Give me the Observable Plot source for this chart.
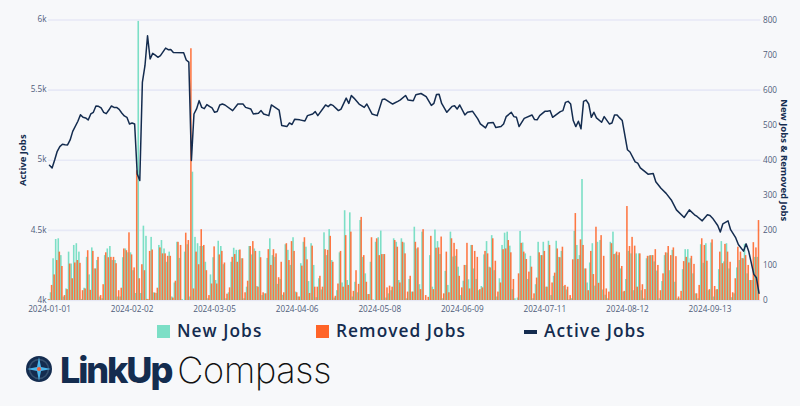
<!DOCTYPE html>
<html><head><meta charset="utf-8">
<script src="https://cdn.jsdelivr.net/npm/d3@7"></script>
<script src="https://cdn.jsdelivr.net/npm/@observablehq/plot@0.6"></script>
<style>
html,body{margin:0;padding:0;background:#fff;overflow:hidden}
#page{position:relative;width:800px;height:406px;background:#f7f8fa;font-family:"Open Sans",sans-serif}
#chart{position:absolute;left:0;top:0}
.lg{position:absolute;top:319px;font-size:17.3px;font-weight:600;color:#142c4f;letter-spacing:1.05px;line-height:24px;white-space:nowrap}
.sw{position:absolute}
#logo{position:absolute;left:60px;top:348px;white-space:nowrap;line-height:42px}
#logo .a{font:800 36px Inter,sans-serif;color:#142c4f;letter-spacing:-2.1px}
#logo .b{font:200 36px Inter,sans-serif;color:#111;margin-left:6px;letter-spacing:-.3px}
#icon{position:absolute;left:25px;top:355px}
</style></head><body>
<div id="page">
<div id="chart"></div>
<div class="sw" style="left:157px;top:325px;width:13px;height:13px;background:#7cdfc6"></div>
<div class="lg" style="left:177px">New Jobs</div>
<div class="sw" style="left:316px;top:325px;width:13px;height:13px;background:#ff6428"></div>
<div class="lg" style="left:336px">Removed Jobs</div>
<div class="sw" style="left:524px;top:330px;width:13px;height:4px;background:#142c4f"></div>
<div class="lg" style="left:544px">Active Jobs</div>
<svg id="icon" width="28" height="28" viewBox="0 0 28 28">
<circle cx="14" cy="14" r="13" fill="#142c4f"/><circle cx="14" cy="14" r="9.5" fill="none" stroke="#35506f" stroke-width="1.5"/>
<path d="M14 2 L16 12 L26 14 L16 16 L14 26 L12 16 L2 14 L12 12Z" fill="#4cb5ea"/><circle cx="14" cy="14" r="2" fill="#f0603a"/>
</svg>
<div id="logo"><span class="a">LinkUp</span><span class="b">Compass</span></div>
</div>
<script>
const newJobs = [
2,22,119,174,176,128,10,33,138,104,
157,162,138,3,35,123,73,150,90,114,
10,5,128,147,154,114,114,10,10,122,
147,136,136,85,20,796,20,212,183,3,
180,22,20,157,171,147,109,138,10,50,
166,120,3,138,159,10,366,180,162,154,
154,109,5,73,122,57,169,154,102,5,
22,109,149,143,143,119,5,38,154,130,
147,40,140,14,19,120,176,128,123,46,
60,15,159,143,100,179,24,10,105,166,
152,54,162,100,8,62,30,193,128,202,
114,7,28,136,50,256,57,250,10,52,
22,228,123,76,17,109,2,166,179,198,
131,7,19,28,176,166,57,176,164,5,
60,24,209,147,45,195,0,0,128,38,
201,168,131,5,83,43,195,124,126,95,
14,55,100,59,157,90,60,28,40,130,
168,95,185,85,10,62,157,192,195,155,
31,5,7,197,164,133,60,126,5,45,
166,128,166,38,169,14,69,169,123,140,
40,30,2,5,197,157,128,345,90,50,
107,162,41,166,171,30,15,5,166,195,
133,128,90,24,60,140,133,28,133,133,
28,5,119,126,128,110,84,5,54,128,
135,85,143,52,5,5,88,145,145,119,
76,19,5,159,106,162,28,164,10,30,
88,168,110,162,90,8,19,93,114,120,
160,76,57,57,123,123];
const removedJobs = [
3,43,73,114,138,97,14,31,104,62,
107,114,106,28,33,142,29,140,90,123,
14,45,136,122,123,123,105,28,35,147,
142,193,130,93,370,62,102,85,3,140,
144,21,35,150,133,133,126,126,7,55,
166,157,0,192,171,718,33,138,102,202,
157,85,14,47,153,47,130,140,107,18,
36,123,131,109,144,119,22,55,154,168,
140,38,122,22,19,145,100,145,133,65,
109,22,162,114,168,140,22,10,98,179,
116,20,155,38,38,69,38,145,143,183,
109,12,47,140,38,185,43,195,26,85,
46,237,128,52,17,179,0,176,128,131,
131,36,41,38,171,152,50,166,133,24,
69,24,166,150,31,202,14,9,183,31,
149,150,181,19,138,22,176,163,145,69,
36,100,163,33,157,140,123,31,36,140,
133,93,176,112,24,50,145,147,171,136,
60,0,76,163,138,117,81,95,19,64,
136,128,140,38,157,50,78,147,122,152,
43,38,14,116,248,117,173,157,90,28,
140,74,209,49,185,126,33,24,162,131,
138,136,97,26,268,154,180,155,38,133,
45,31,126,128,128,145,100,28,76,136,
154,128,150,125,10,26,111,123,107,126,
103,19,43,176,157,112,31,173,40,31,
138,105,160,138,109,22,62,152,138,119,
128,100,57,165,150,228];
const activeDay = [
0,1,2,3,4,5,6,7,8,9,
11,12,13,14,15,16,17,18,19,20,
21,22,23,24,25,26,27,28,29,30,
31,32,33,34,35,36,37,38,39,40,
41,42,43,45,46,47,48,52,53,54,
55,56,57,58,59,60,61,62,63,64,
65,66,67,68,71,73,75,76,78,79,
81,82,83,85,86,89,90,92,93,94,
95,97,99,100,102,103,104,107,108,109,
110,112,113,115,116,117,118,120,122,123,
125,127,129,130,133,135,136,138,139,141,
142,144,146,148,149,150,151,152,154,156,
157,158,159,161,162,164,166,167,169,170,
172,173,175,176,177,179,180,181,182,184,
187,188,189,190,192,193,194,195,198,199,
200,201,202,203,204,205,206,207,208,209,
210,211,212,214,215,217,218,219,220,221,
222,224,225,227,228,229,232,234,235,237,
239,241,243,246,248,250,251,253,255,256,
257,259,260,261,263,264,266,267,269,270,
271,273,274,275];
const activeValue = [
4964,4945,5002,5064,5097,5114,5111,5109,5145,5206,
5278,5325,5306,5302,5287,5330,5342,5387,5385,5373,
5342,5332,5358,5387,5377,5377,5363,5337,5316,5306,
5259,5266,5259,4902,4855,5556,5674,5888,5722,5762,
5750,5734,5746,5800,5788,5790,5769,5767,5715,5700,
4998,5330,5366,5425,5377,5368,5397,5385,5373,5342,
5347,5394,5401,5394,5354,5401,5401,5377,5366,5330,
5335,5354,5330,5318,5394,5358,5248,5240,5266,5255,
5292,5288,5280,5318,5330,5347,5318,5394,5382,5398,
5389,5354,5365,5443,5405,5462,5443,5401,5377,5401,
5330,5318,5434,5436,5401,5420,5431,5462,5429,5424,
5467,5476,5453,5391,5406,5469,5471,5405,5342,5384,
5389,5365,5394,5323,5342,5349,5295,5259,5231,5266,
5269,5233,5240,5259,5311,5342,5311,5306,5240,5299,
5323,5290,5288,5318,5349,5349,5354,5306,5347,5354,
5413,5420,5401,5283,5240,5278,5224,5420,5429,5401,
5306,5342,5302,5271,5311,5259,5266,5323,5323,5302,
5283,5075,5059,4988,4979,4946,4901,4906,4847,4800,
4764,4717,4646,4592,4646,4611,4599,4568,4611,4606,
4587,4535,4488,4547,4568,4505,4446,4399,4352,4404,
4352,4186,4162,4052];
const tickDays = [0,32,64,96,128,160,192,224,256];
const leftTicks = [4000,4500,5000,5500,6000];
const leftLabels = ["4k","4.5k","5k","5.5k","6k"];
const rightTicks = [0,100,200,300,400,500,600,700,800];

const DAY = 864e5, T0 = Date.UTC(2024,0,1);
const day = i => new Date(T0 + i*DAY);
const toRight = v => (v-4000)/2000*800;
const tickColor = "#4f5d7a", navy = "#142c4f";
const rows = newJobs.map((n,i)=>({i,n,r:removedJobs[i]}));
const activeRows = activeDay.map((d,k)=>({d,v:activeValue[k]}));

const chart = Plot.plot({
  width:800,height:320,
  marginLeft:49,marginRight:41.5,marginTop:19.5,marginBottom:20,
  style:{background:"transparent",fontFamily:"'Open Sans',sans-serif"},
  x:{type:"utc",domain:[day(0),day(275)]},
  y:{domain:[0,800]},
  marks:[
    Plot.ruleY(leftTicks.map(toRight),{stroke:"#e7e9f6",strokeWidth:1.6,insetLeft:-1,insetRight:-2}),
    Plot.rectY(rows,{x1:d=>day(d.i-0.72),x2:d=>day(d.i-0.1),y1:0,y2:"n",fill:"#7cdfc6"}),
    Plot.rectY(rows,{x1:d=>day(d.i-0.3),x2:d=>day(d.i+0.3),y1:0,y2:"r",fill:"#ff6428",fillOpacity:0.88}),
    Plot.lineY(activeRows,{x:d=>day(d.d),y:d=>toRight(d.v),stroke:navy,strokeWidth:1.5,curve:"linear"}),
    Plot.axisX({ticks:tickDays.map(day),tickFormat:d3.utcFormat("%Y-%m-%d"),tickSize:0,tickPadding:5.5,fontSize:8.2,fill:tickColor,label:null}),
    Plot.axisY({anchor:"left",ticks:leftTicks.map(toRight),tickFormat:(d,i)=>leftLabels[i],tickSize:0,tickPadding:3,dy:-0.5,fontSize:8.2,fill:tickColor,label:null}),
    Plot.axisY({anchor:"right",ticks:rightTicks,tickSize:0,tickPadding:4,fontSize:8.2,fill:tickColor,label:null}),
    Plot.text(["Active Jobs"],{frameAnchor:"left",dx:-27,rotate:-90,textAnchor:"middle",fontSize:9.5,fontWeight:700,fill:navy}),
    Plot.text(["New Jobs & Removed Jobs"],{frameAnchor:"right",dx:25,rotate:90,textAnchor:"middle",fontSize:9.5,fontWeight:700,fill:navy})
  ]
});
document.getElementById("chart").appendChild(chart);
</script>
</body></html>
